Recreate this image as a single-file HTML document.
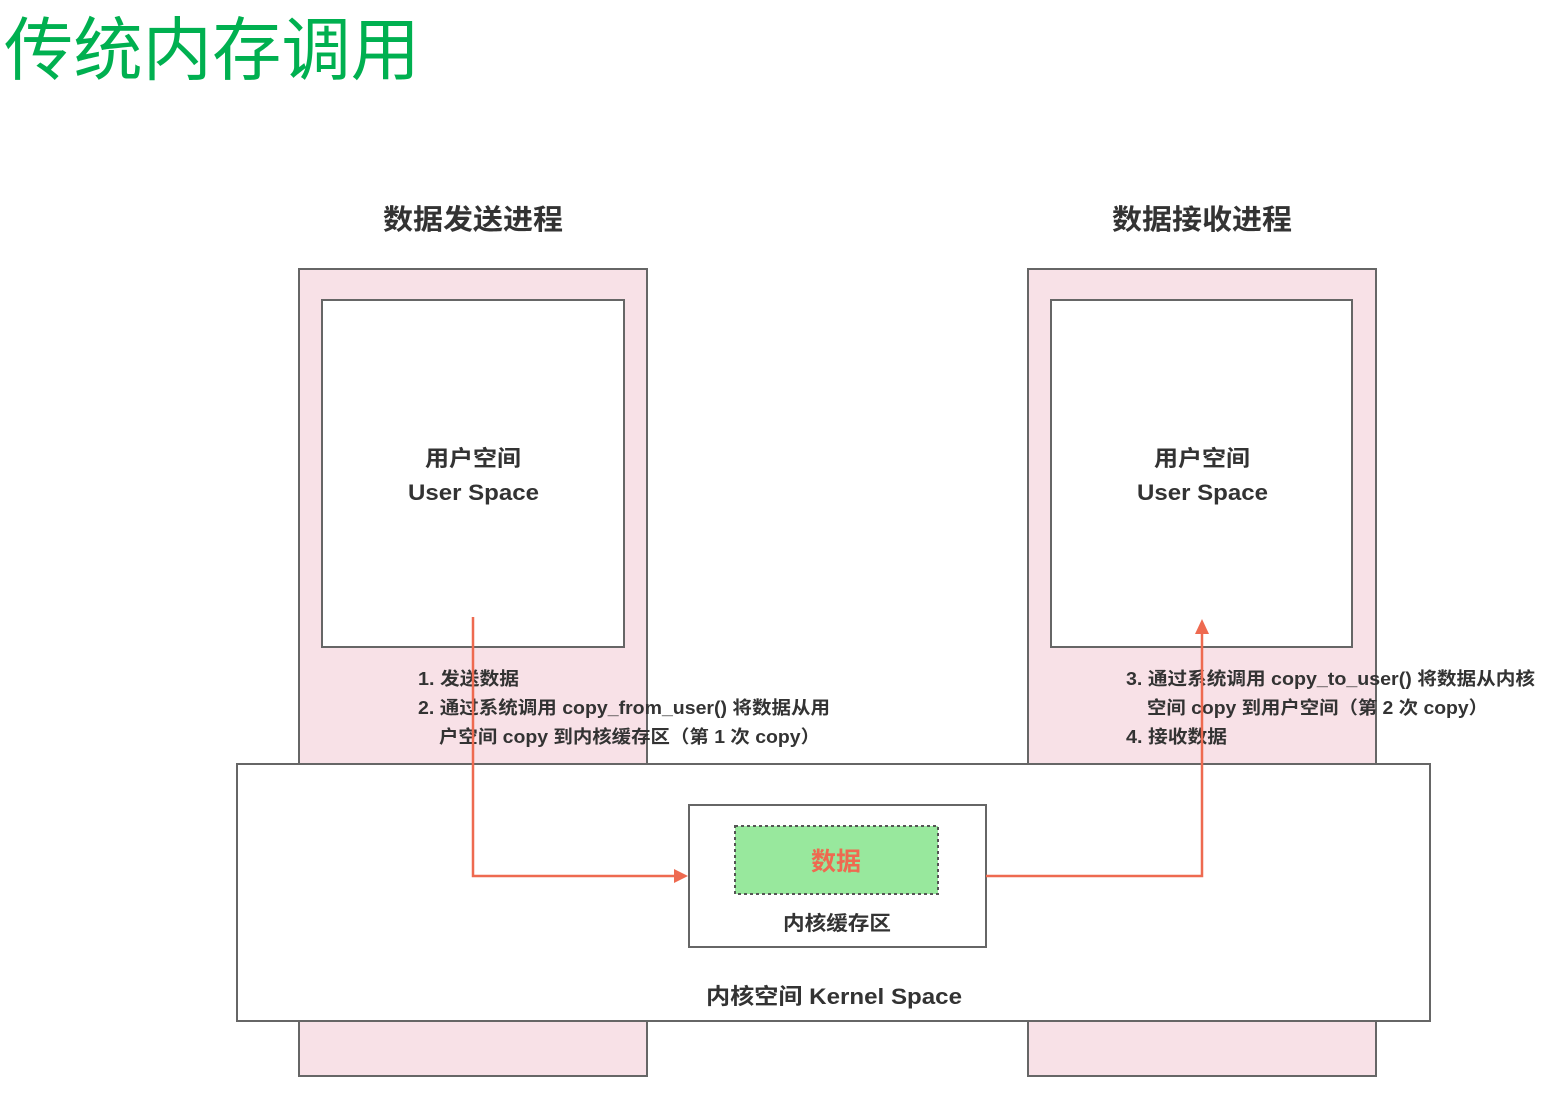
<!DOCTYPE html>
<html><head><meta charset="utf-8"><style>
html,body{margin:0;padding:0;background:#fff;width:1554px;height:1108px;overflow:hidden}
svg text{font-family:"Liberation Sans","Noto Sans CJK SC",sans-serif;fill:#333}
</style></head><body>
<svg width="1554" height="1108" viewBox="0 0 1554 1108" xmlns="http://www.w3.org/2000/svg">
<text x="4" y="74" textLength="416" lengthAdjust="spacingAndGlyphs" style="font-size:69px;fill:#00b050">传统内存调用</text>
<text x="383" y="229" textLength="180" lengthAdjust="spacingAndGlyphs" style="font-size:28px;font-weight:bold">数据发送进程</text>
<text x="1112" y="229" textLength="180" lengthAdjust="spacingAndGlyphs" style="font-size:28px;font-weight:bold">数据接收进程</text>
<rect x="299" y="269" width="348" height="807" fill="#f8e1e7" stroke="#666" stroke-width="2"/>
<rect x="1028" y="269" width="348" height="807" fill="#f8e1e7" stroke="#666" stroke-width="2"/>
<rect x="322" y="300" width="302" height="347" fill="#fff" stroke="#666" stroke-width="2"/>
<rect x="1051" y="300" width="301" height="347" fill="#fff" stroke="#666" stroke-width="2"/>
<text x="425" y="466" textLength="96" lengthAdjust="spacingAndGlyphs" style="font-size:22px;font-weight:bold">用户空间</text>
<text x="408" y="500" textLength="131" lengthAdjust="spacingAndGlyphs" style="font-size:22px;font-weight:bold">User Space</text>
<text x="1154" y="466" textLength="96" lengthAdjust="spacingAndGlyphs" style="font-size:22px;font-weight:bold">用户空间</text>
<text x="1137" y="500" textLength="131" lengthAdjust="spacingAndGlyphs" style="font-size:22px;font-weight:bold">User Space</text>
<rect x="237" y="764" width="1193" height="257" fill="#fff" stroke="#666" stroke-width="2"/>
<rect x="689" y="805" width="297" height="142" fill="#fff" stroke="#666" stroke-width="2"/>
<rect x="735" y="826" width="203" height="68" fill="#98e89d" stroke="#555" stroke-width="2" stroke-dasharray="3,3"/>
<text x="836" y="870" text-anchor="middle" style="font-size:25px;fill:#ee6a50;font-weight:bold">数据</text>
<text x="783" y="930" textLength="108" lengthAdjust="spacingAndGlyphs" style="font-size:20px;font-weight:bold">内核缓存区</text>
<text x="706" y="1004" textLength="256" lengthAdjust="spacingAndGlyphs" style="font-size:22px"><tspan style="font-weight:bold">内核空间 Kernel Space</tspan></text>
<g style="font-size:18px;font-weight:bold">
<text x="418" y="685" textLength="101" lengthAdjust="spacingAndGlyphs">1. 发送数据</text>
<text x="418" y="714" textLength="412" lengthAdjust="spacingAndGlyphs">2. 通过系统调用 copy_from_user() 将数据从用</text>
<text x="439" y="743" textLength="381" lengthAdjust="spacingAndGlyphs">户空间 copy 到内核缓存区（第 1 次 copy）</text>
<text x="1126" y="685" textLength="409" lengthAdjust="spacingAndGlyphs">3. 通过系统调用 copy_to_user() 将数据从内核</text>
<text x="1147" y="714" textLength="341" lengthAdjust="spacingAndGlyphs">空间 copy 到用户空间（第 2 次 copy）</text>
<text x="1126" y="743" textLength="101" lengthAdjust="spacingAndGlyphs">4. 接收数据</text>
</g>
<polyline points="473,617 473,876 674,876" fill="none" stroke="#ee6a50" stroke-width="2.5"/>
<polygon points="674,869 688,876 674,883" fill="#ee6a50"/>
<polyline points="986,876 1202,876 1202,633" fill="none" stroke="#ee6a50" stroke-width="2.5"/>
<polygon points="1195,634 1202,619 1209,634" fill="#ee6a50"/>
</svg>
</body></html>
